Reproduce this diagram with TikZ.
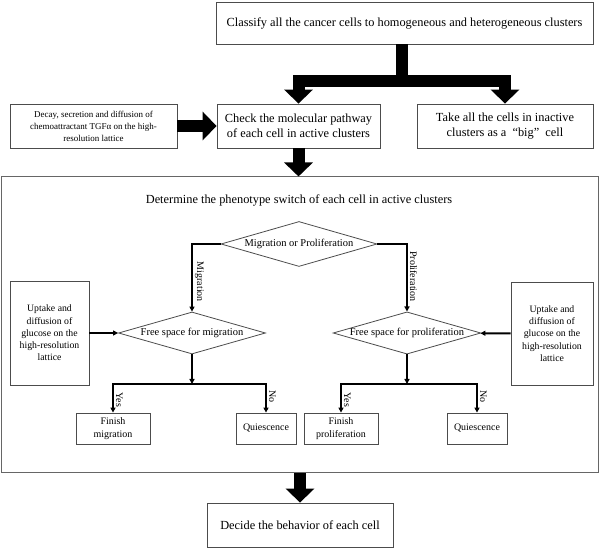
\documentclass[tikz,border=0pt]{standalone}
\usepackage{fontspec}
\setmainfont{Liberation Serif}
\usetikzlibrary{arrows.meta,shapes.geometric}
\begin{document}
\begin{tikzpicture}[>=latex,line join=miter,
  stepbox/.style={draw=black!70,line width=0.8bp,align=center,inner sep=0pt,font=\fontsize{12.4}{15}\selectfont},
  smallbox/.style={stepbox,font=\fontsize{9}{12}\selectfont},
  endbox/.style={stepbox,font=\fontsize{10}{12.5}\selectfont},
  choice/.style={diamond,draw=black!70,line width=0.8bp,inner sep=0pt,aspect=3.5,font=\fontsize{10.5}{12}\selectfont},
  fatline/.style={line width=12bp},
  fatarrow/.style={line width=12bp,-{Triangle[length=14bp,width=28bp]}},
  thinarrow/.style={line width=2bp,-{Triangle[length=5bp,width=5bp]}},
  branchlabel/.style={rotate=-90,anchor=south,inner sep=2bp,font=\fontsize{10}{12}\selectfont},
]
\useasboundingbox (0bp,0bp) rectangle (600bp,548bp);
%%
\node (node_classify) at (404.5bp,525bp) [stepbox,minimum width=377bp,minimum height=42bp] {Classify all the cancer cells to homogeneous and heterogeneous clusters};
  \node (node_decay) at (93.5bp,422bp) [smallbox,minimum width=167bp,minimum height=44bp] {Decay, secretion and diffusion of\\chemoattractant TGFα on the high-\\resolution lattice};
  \node (node_check) at (298.5bp,422bp) [stepbox,minimum width=163bp,minimum height=44bp] {Check the molecular pathway\\of each cell in active clusters};
  \node (node_take) at (505bp,422bp) [stepbox,minimum width=176bp,minimum height=44bp] {Take all the cells in inactive\\clusters as a \ “big”\ \ cell};
  \coordinate (split) at (402bp,467bp);
  \draw [fatline] (node_classify.south -| split) -- (split);
  \draw [fatarrow] (split) -| (node_check.north);
  \draw [fatarrow] (split) -| (node_take.north);
  \draw [fatarrow] (node_decay) -- (node_check);
%
\node (node_switch) at (299.5bp,223bp) [draw=black!60,line width=1bp,minimum width=597bp,minimum height=296bp] {};
  \node (node_switch_title) at (299bp,348bp) [font=\fontsize{12.4}{15}\selectfont] {Determine the phenotype switch of each cell in active clusters};
  \draw [fatarrow] (node_check.south) -- (node_check.south |- node_switch.north);
  \node (node_choice) at (299bp,304bp) [choice,minimum width=156bp,minimum height=45bp] {Migration or Proliferation};
  \node (node_free_mig) at (192bp,215bp) [choice,minimum width=147bp,minimum height=42bp] {Free space for migration};
  \node (node_free_pro) at (407bp,215bp) [choice,minimum width=145bp,minimum height=42bp] {Free space for proliferation};
  \node (node_uptake_l) at (49.5bp,215bp) [smallbox,font=\fontsize{9.8}{12.3}\selectfont,minimum width=79bp,minimum height=104bp] {Uptake and\\diffusion of\\glucose on the\\high-resolution\\lattice};
  \node (node_uptake_r) at (552bp,214.5bp) [smallbox,font=\fontsize{9.8}{12.3}\selectfont,minimum width=82bp,minimum height=103bp] {Uptake and\\diffusion of\\glucose on the\\high-resolution\\lattice};
  \draw [thinarrow] (node_choice.west) -| node [branchlabel,pos=0.78] {Migration} (node_free_mig.north);
  \draw [thinarrow] (node_choice.east) -| node [branchlabel,pos=0.74] {Proliferation} (node_free_pro.north);
  \draw [thinarrow] (node_uptake_l) -- (node_free_mig);
  \draw [thinarrow] (node_uptake_r) -- (node_free_pro);
%
\node (node_fin_mig) at (113bp,119.5bp) [endbox,minimum width=74bp,minimum height=31bp] {Finish\\migration};
  \node (node_quiet_l) at (266bp,119.5bp) [endbox,minimum width=60bp,minimum height=31bp] {Quiescence};
  \node (node_fin_pro) at (341bp,119.5bp) [endbox,minimum width=74bp,minimum height=31bp] {Finish\\proliferation};
  \node (node_quiet_r) at (477bp,119.5bp) [endbox,minimum width=60bp,minimum height=31bp] {Quiescence};
  \coordinate (branch_l) at (192bp,164bp);
  \coordinate (branch_r) at (407bp,164bp);
  \draw [thinarrow] (node_free_mig.south) -- (branch_l);
  \draw [thinarrow] (node_free_pro.south) -- (branch_r);
  \draw [thinarrow] (branch_l) -| node [branchlabel,pos=0.78] {Yes} (node_fin_mig.north);
  \draw [thinarrow] (branch_l) -| node [branchlabel,pos=0.72] {No} (node_quiet_l.north);
  \draw [thinarrow] (branch_r) -| node [branchlabel,pos=0.78] {Yes} (node_fin_pro.north);
  \draw [thinarrow] (branch_r) -| node [branchlabel,pos=0.72] {No} (node_quiet_r.north);
%
\node (node_decide) at (300bp,23bp) [stepbox,minimum width=186bp,minimum height=44bp] {Decide the behavior of each cell};
  \draw [fatarrow] (node_switch.south -| node_decide) -- (node_decide.north);
%
\end{tikzpicture}
\end{document}
